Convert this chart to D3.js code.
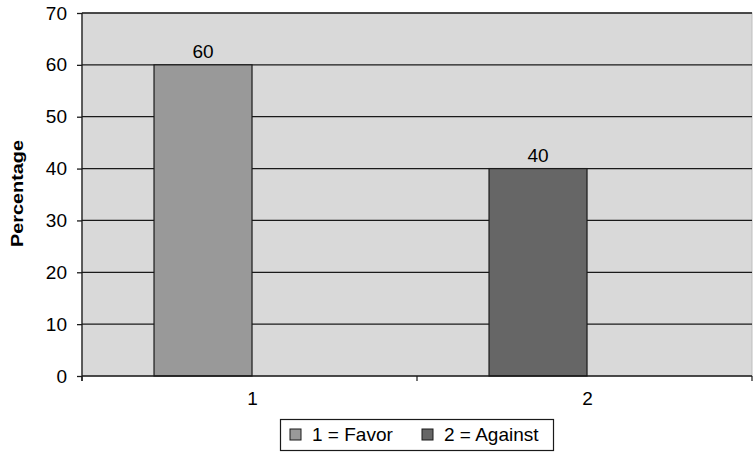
<!DOCTYPE html>
<html>
<head>
<meta charset="utf-8">
<script src="https://cdn.jsdelivr.net/npm/d3@7"></script>
<style>
  body { margin: 0; background: #fff; }
  text { font-family: "Liberation Sans", Arial, sans-serif; fill: #000; }
</style>
</head>
<body>
<div id="chart"></div>
<script>
// chart data
const categories = ["1", "2"];
const values = [60, 40];
const seriesNames = ["1 = Favor", "2 = Against"];
const barColors = ["#999999", "#666666"];
const yTicks = [0, 10, 20, 30, 40, 50, 60, 70];

const width = 754, height = 452;
const plot = { left: 82, right: 752, top: 13, bottom: 376 };
const fs = 19;

const svg = d3.select("#chart").append("svg")
  .attr("width", width)
  .attr("height", height);

const x = d3.scaleBand()
  .domain(categories)
  .range([plot.left, plot.right])
  .padding(0);

const y = d3.scaleLinear()
  .domain([0, 70])
  .range([plot.bottom, plot.top]);

// plot background
svg.append("rect")
  .attr("x", plot.left)
  .attr("y", plot.top)
  .attr("width", plot.right - plot.left)
  .attr("height", plot.bottom - plot.top)
  .attr("fill", "#d9d9d9")
  .attr("stroke", "#bdbdbd")
  .attr("stroke-width", 1);

// gridlines
svg.append("g")
  .selectAll("line")
  .data(yTicks.filter(d => d > 0))
  .enter()
  .append("line")
  .attr("x1", plot.left)
  .attr("x2", plot.right)
  .attr("y1", d => y(d))
  .attr("y2", d => y(d))
  .attr("stroke", "#1a1a1a")
  .attr("stroke-width", 1.3);

// bars (sit left of the category centre like the original)
const bw = x.bandwidth();
const barOffset = 0.215 * bw;
const barWidth = 0.2925 * bw;

svg.append("g")
  .selectAll("rect")
  .data(values)
  .enter()
  .append("rect")
  .attr("x", (d, i) => x(categories[i]) + barOffset)
  .attr("y", d => y(d))
  .attr("width", barWidth)
  .attr("height", d => y(0) - y(d))
  .attr("fill", (d, i) => barColors[i])
  .attr("stroke", "#1a1a1a")
  .attr("stroke-width", 1.2);

// value labels
svg.append("g")
  .selectAll("text")
  .data(values)
  .enter()
  .append("text")
  .attr("x", (d, i) => x(categories[i]) + barOffset + barWidth / 2)
  .attr("y", d => y(d) - 7)
  .attr("text-anchor", "middle")
  .attr("font-size", fs)
  .text(d => d);

// y axis
const yAxis = svg.append("g")
  .attr("transform", `translate(${plot.left},0)`)
  .call(d3.axisLeft(y).tickValues(yTicks).tickSize(5).tickPadding(10));
yAxis.selectAll("text").attr("font-size", fs).attr("font-family", "Liberation Sans, Arial, sans-serif");
yAxis.selectAll("line, path").attr("stroke", "#1a1a1a").attr("stroke-width", 1.3);
yAxis.select("path").attr("d", `M0,${plot.top}V${plot.bottom + 5}`);

// x axis: ticks at category boundaries, labels at centres
const xg = svg.append("g");
xg.append("line")
  .attr("x1", plot.left).attr("x2", plot.right)
  .attr("y1", plot.bottom).attr("y2", plot.bottom)
  .attr("stroke", "#1a1a1a").attr("stroke-width", 1.3);
const boundaries = categories.map(c => x(c)).concat([x(categories[categories.length - 1]) + bw]);
xg.selectAll("line.tick")
  .data(boundaries)
  .enter()
  .append("line")
  .attr("class", "tick")
  .attr("x1", d => d).attr("x2", d => d)
  .attr("y1", plot.bottom).attr("y2", plot.bottom + 5)
  .attr("stroke", "#1a1a1a").attr("stroke-width", 1.2);
xg.selectAll("text")
  .data(categories)
  .enter()
  .append("text")
  .attr("x", d => x(d) + bw / 2 + 3)
  .attr("y", plot.bottom + 29)
  .attr("text-anchor", "middle")
  .attr("font-size", fs)
  .text(d => d);

// y axis title
svg.append("text")
  .attr("transform", `translate(23,${(plot.top + plot.bottom) / 2 - 1}) rotate(-90)`)
  .attr("text-anchor", "middle")
  .attr("font-size", 17)
  .attr("font-weight", "bold")
  .attr("textLength", 107)
  .attr("lengthAdjust", "spacingAndGlyphs")
  .text("Percentage");

// legend
const legend = svg.append("g");
legend.append("rect")
  .attr("x", 280.5).attr("y", 419.5)
  .attr("width", 273).attr("height", 31)
  .attr("fill", "#fff")
  .attr("stroke", "#1a1a1a")
  .attr("stroke-width", 1.2);

const legendX = [290, 422];
const items = legend.selectAll("g.item")
  .data(seriesNames)
  .enter()
  .append("g")
  .attr("class", "item")
  .attr("transform", (d, i) => `translate(${legendX[i]},429)`);
items.append("rect")
  .attr("width", 11).attr("height", 11)
  .attr("fill", (d, i) => barColors[i])
  .attr("stroke", "#1a1a1a")
  .attr("stroke-width", 1);
items.append("text")
  .attr("x", 22)
  .attr("y", 12)
  .attr("font-size", fs)
  .text(d => d);
</script>
</body>
</html>
